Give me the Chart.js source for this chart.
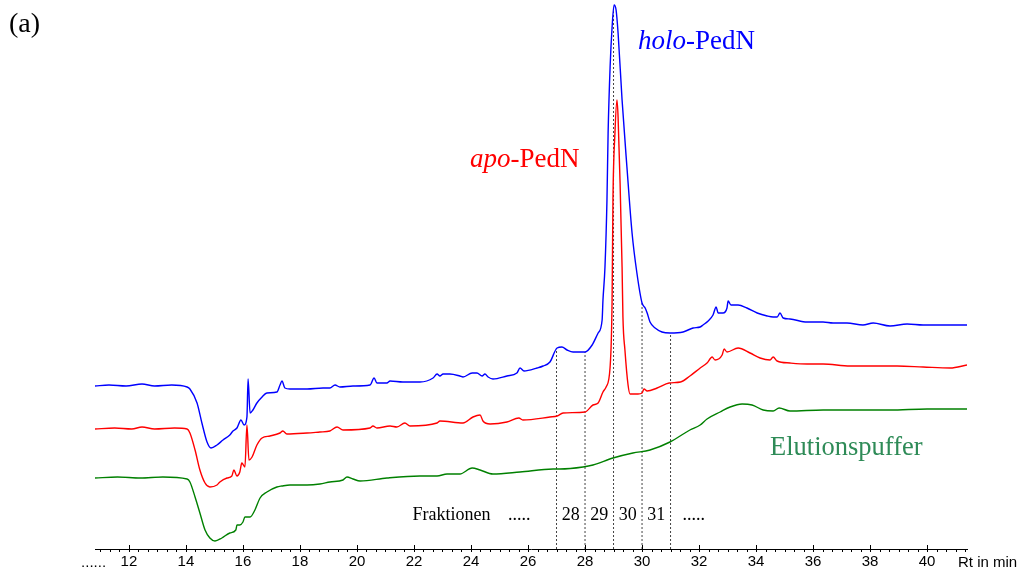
<!DOCTYPE html>
<html>
<head>
<meta charset="utf-8">
<script src="https://cdn.jsdelivr.net/npm/chart.js@4.4.1/dist/chart.umd.min.js"></script>
<style>
  html, body { margin: 0; padding: 0; background: #ffffff; }
  #wrap { position: relative; width: 1022px; height: 571px; }
</style>
</head>
<body>
<div id="wrap"><canvas id="chart" width="1022" height="571"></canvas></div>
<script>
// Retention time axis (min)
const rtMin = 10.81;
const rtMax = 41.4;
const axisTicks = [12, 14, 16, 18, 20, 22, 24, 26, 28, 30, 32, 34, 36, 38, 40];

// Collected fractions: boundaries (min) and fraction numbers
const fractionBounds = [27, 28, 29, 30, 31];
const fractionNames = ['28', '29', '30', '31'];

// UV traces, [retention time (min), signal (offset mAU)]
const holoTrace = [
  [10.81,163],[11.3,164],[11.9,163],[12.46,165],[12.9,163],[13.5,164],[14.04,162],[14.14,160],
  [14.39,146],[14.56,126],[14.74,107],[14.88,101],[15.09,104],[15.30,109],[15.54,114],[15.65,118],
  [15.79,121],[15.93,129],[16.04,124],[16.14,132],[16.18,170],[16.25,136],[16.35,139],[16.49,146],
  [16.67,152],[16.84,156],[17.19,157],[17.30,164],[17.37,168],[17.47,161],[17.65,160],[18.25,160],
  [18.81,161],[19.05,161],[19.23,164],[19.40,162],[19.86,163],[20.46,164],[20.60,171],[20.70,166],
  [21.05,166],[21.16,168],[21.61,167],[22.21,167],[22.67,171],[22.81,175],[22.91,173],[23.02,175],
  [23.26,175],[23.61,173],[23.72,172],[24.04,176],[24.21,176],[24.39,173],[24.49,175],[24.60,172],
  [24.77,170],[25.26,173],[25.61,176],[25.72,181],[25.86,178],[26.32,181],[26.53,183],[26.77,187],
  [27.02,201],[27.19,202],[27.37,199],[27.58,197],[28.00,197],[28.25,204],[28.46,216],[28.60,229],
  [28.63,249],[28.70,282],[28.77,349],[28.81,416],[28.88,482],[28.95,522],[29.02,544],[29.09,539],
  [29.16,516],[29.30,449],[29.47,382],[29.65,316],[29.82,276],[30.00,246],[30.11,241],[30.18,236],
  [30.28,227],[30.46,221],[30.70,217],[30.98,216],[31.44,217],[31.79,221],[32.04,222],[32.14,224],
  [32.32,228],[32.49,234],[32.60,242],[32.67,236],[32.84,236],[32.98,241],[33.02,248],[33.12,244],
  [33.37,244],[33.68,241],[34.04,236],[34.39,233],[34.60,232],[34.74,232],[34.84,236],[34.95,231],
  [35.19,230],[35.79,227],[36.35,227],[36.70,226],[37.19,226],[37.75,224],[38.11,226],[38.70,223],
  [39.30,225],[39.86,224],[40.56,224],[41.40,224]
];

const apoTrace = [
  [10.81,120],[11.5,121],[12.1,120],[12.46,122],[12.9,120],[13.6,121],[14.04,120],[14.14,116],
  [14.32,99],[14.49,79],[14.67,66],[14.84,62],[15.09,64],[15.19,67],[15.44,71],[15.61,73],
  [15.68,79],[15.79,73],[15.89,77],[15.96,86],[16.07,82],[16.14,124],[16.21,89],[16.32,92],
  [16.49,104],[16.67,111],[16.95,113],[17.30,116],[17.40,118],[17.54,115],[18.25,116],[18.70,117],
  [19.05,118],[19.30,122],[19.51,119],[20.46,121],[20.56,123],[20.70,121],[21.16,123],[21.40,122],
  [21.68,126],[21.86,123],[22.81,126],[22.91,128],[23.72,126],[24.07,132],[24.32,134],[24.42,128],
  [24.67,125],[25.26,127],[25.68,131],[25.82,129],[26.77,132],[27.02,133],[27.23,136],[28.00,137],
  [28.28,144],[28.46,146],[28.63,157],[28.74,162],[28.88,182],[28.95,249],[28.98,349],[29.05,416],
  [29.12,449],[29.16,432],[29.23,366],[29.30,282],[29.33,232],[29.40,199],[29.51,164],[29.58,155],
  [29.86,155],[30.00,156],[30.07,160],[30.18,158],[30.53,161],[30.95,166],[31.35,167],[31.68,173],
  [32.04,181],[32.28,186],[32.46,192],[32.56,189],[32.81,194],[32.88,200],[32.98,197],[33.37,201],
  [33.79,196],[34.14,191],[34.49,189],[34.60,192],[34.74,188],[35.19,186],[35.79,185],[36.35,185],
  [37.30,183],[38.11,183],[38.95,183],[39.86,182],[40.81,181],[41.40,184]
];

const bufferTrace = [
  [10.81,71],[11.6,72],[12.4,71],[13.19,72],[14.04,70],[14.14,67],[14.32,52],[14.49,36],
  [14.67,19],[14.84,11],[15.02,8],[15.26,11],[15.54,16],[15.75,19],[15.79,24],[15.89,24],
  [16.00,27],[16.07,32],[16.25,32],[16.42,39],[16.60,51],[16.84,57],[17.19,62],[17.37,63],
  [17.65,64],[18.25,64],[18.70,65],[19.05,67],[19.51,69],[19.65,72],[19.86,70],[20.11,68],
  [21.05,71],[22.21,73],[22.81,73],[23.16,75],[23.61,75],[24.04,81],[24.32,79],[24.77,75],
  [25.72,77],[26.88,80],[27.12,80],[27.93,82],[28.28,84],[28.98,91],[29.68,96],[30.28,99],
  [30.98,107],[31.68,119],[32.04,124],[32.28,130],[32.74,137],[33.09,142],[33.51,145],[33.86,144],
  [34.25,139],[34.60,138],[34.81,141],[35.19,138],[36.35,139],[37.54,139],[38.70,139],[40.00,140],
  [41.40,140]
];

const toPoints = tr => tr.map(([x, y]) => ({ x, y }));

// signal of a trace at a given time (linear between samples)
function signalAt(trace, t) {
  for (let i = 1; i < trace.length; i++) {
    const [x0, y0] = trace[i - 1], [x1, y1] = trace[i];
    if (t >= x0 && t <= x1) return y0 + (y1 - y0) * (t - x0) / (x1 - x0);
  }
  return trace[trace.length - 1][1];
}

const traceStyle = { pointRadius: 0, borderWidth: 1.4, fill: false, cubicInterpolationMode: 'monotone' };

const datasets = [
  { label: 'apo-PedN', data: toPoints(apoTrace), borderColor: '#ff0000', order: 1, ...traceStyle },
  { label: 'holo-PedN', data: toPoints(holoTrace), borderColor: '#0000ff', order: 2, ...traceStyle },
  { label: 'Elutionspuffer', data: toPoints(bufferTrace), borderColor: '#008000', order: 3, ...traceStyle }
];

// fraction cut lines from the axis up to the holo trace
fractionBounds.forEach(t => {
  datasets.push({
    label: 'cut ' + t,
    data: [{ x: t, y: 0 }, { x: t, y: signalAt(holoTrace, t) }],
    borderColor: '#444444', borderWidth: 1, borderDash: [2, 2],
    pointRadius: 0, fill: false, order: 4
  });
});

// minor ticks every 1/3 min, major ticks at labelled values
const axisMarks = {
  id: 'axisMarks',
  afterDraw(chart) {
    const { ctx } = chart;
    const xs = chart.scales.x;
    const yb = chart.chartArea.bottom;
    ctx.save();
    ctx.strokeStyle = '#000';
    ctx.lineWidth = 1;
    ctx.beginPath();
    for (let k = Math.ceil(rtMin * 3); k <= Math.floor(rtMax * 3); k++) {
      const t = k / 3;
      const px = Math.round(xs.getPixelForValue(t)) + 0.5;
      const major = k % 6 === 0;
      ctx.moveTo(px, major ? yb - 4 : yb);
      ctx.lineTo(px, yb + 3);
    }
    ctx.stroke();

    ctx.fillStyle = '#000';
    ctx.font = '15px "Liberation Sans", Arial, sans-serif';
    ctx.textAlign = 'right';
    ctx.textBaseline = 'alphabetic';
    ctx.fillText('......', xs.getPixelForValue(11.2), 567);
    ctx.textAlign = 'left';
    ctx.fillText('Rt in min', 958, 567);
    ctx.restore();
  }
};

function drawRuns(ctx, runs, x, y, color, size) {
  ctx.fillStyle = color;
  runs.forEach(([text, style]) => {
    ctx.font = style + ' ' + size + 'px "Liberation Serif", "Times New Roman", serif';
    ctx.fillText(text, x, y);
    x += ctx.measureText(text).width;
  });
}

const annotations = {
  id: 'annotations',
  afterDraw(chart) {
    const { ctx } = chart;
    const xs = chart.scales.x;
    ctx.save();
    ctx.textBaseline = 'alphabetic';
    ctx.textAlign = 'left';
    drawRuns(ctx, [['(a)', 'normal']], 9, 32, '#000000', 28);
    drawRuns(ctx, [['holo', 'italic'], ['-PedN', 'normal']], 638, 49, '#0000ff', 27);
    drawRuns(ctx, [['apo', 'italic'], ['-PedN', 'normal']], 470, 167, '#ff0000', 27);
    drawRuns(ctx, [['Elutionspuffer', 'normal']], 770, 455, '#2e8b57', 26.5);

    // fraction numbering
    ctx.fillStyle = '#000';
    ctx.font = '18px "Liberation Serif", "Times New Roman", serif';
    ctx.textAlign = 'center';
    for (let i = 0; i < fractionNames.length; i++) {
      const mid = (fractionBounds[i] + fractionBounds[i + 1]) / 2;
      ctx.fillText(fractionNames[i], xs.getPixelForValue(mid), 520);
    }
    ctx.textAlign = 'right';
    const x0 = xs.getPixelForValue(fractionBounds[0]);
    ctx.fillText('Fraktionen', x0 - 66, 520);
    ctx.fillText('.....', x0 - 26, 520);
    ctx.textAlign = 'left';
    ctx.fillText('.....', xs.getPixelForValue(fractionBounds[fractionBounds.length - 1]) + 12, 520);
    ctx.restore();
  }
};

new Chart(document.getElementById('chart'), {
  type: 'line',
  data: { datasets },
  plugins: [axisMarks, annotations],
  options: {
    responsive: false,
    animation: false,
    devicePixelRatio: 1,
    layout: { padding: { left: 95, right: 55, top: 0, bottom: 0 } },
    plugins: { legend: { display: false }, tooltip: { enabled: false } },
    scales: {
      x: {
        type: 'linear',
        min: rtMin,
        max: rtMax,
        afterBuildTicks(scale) { scale.ticks = axisTicks.map(v => ({ value: v })); },
        afterFit(scale) { scale.height = 22; },
        grid: { display: false, drawTicks: false },
        border: { display: true, color: '#000', width: 1 },
        ticks: {
          color: '#000',
          font: { family: '"Liberation Sans", Arial, sans-serif', size: 15 },
          padding: 4,
          maxRotation: 0,
          autoSkip: false
        }
      },
      y: { display: false, min: 0, max: 549 }
    }
  }
});
</script>
</body>
</html>
